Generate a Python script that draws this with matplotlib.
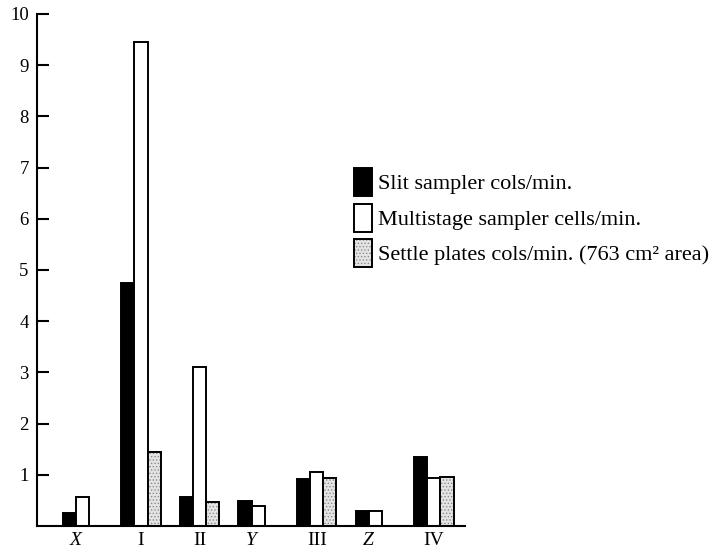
import numpy as np
import matplotlib
matplotlib.use("Agg")
import matplotlib.pyplot as plt
from matplotlib.patches import Patch

groups = ["X", "I", "II", "Y", "III", "Z", "IV"]
italic = [True, False, False, True, False, True, False]
slit = [0.26, 4.75, 0.57, 0.48, 0.92, 0.30, 1.35]
multistage = [0.57, 9.45, 3.10, 0.40, 1.05, 0.30, 0.93]
settle = [np.nan, 1.45, 0.47, np.nan, 0.93, np.nan, 0.95]
labels = ["Slit sampler cols/min.",
          "Multistage sampler cells/min.",
          "Settle plates cols/min. (763 cm\u00b2 area)"]

plt.rcParams['font.family'] = ['Liberation Serif', 'DejaVu Serif']
plt.rcParams['hatch.linewidth'] = 0.6

fig = plt.figure(figsize=(7.18, 5.5), dpi=100)
ax = fig.add_axes([37/718, 1-526/550, (465-37)/718, (526-14)/550])

w = 0.225
x = np.arange(len(groups))
lw = 1.4
stip_face = '#e4e4e4'
stip_dot = '#8a8a8a'
ax.bar(x, slit, w, align='edge', color='black', edgecolor='black', linewidth=lw)
ax.bar(x + w, multistage, w, align='edge', color='white', edgecolor='black', linewidth=lw)
for i, v in enumerate(settle):
    if not np.isnan(v):
        ax.bar(x[i] + 2*w, v, w, align='edge', color=stip_face, edgecolor=stip_dot,
               linewidth=0, hatch='.....')
        ax.bar(x[i] + 2*w, v, w, align='edge', fill=False, edgecolor='black', linewidth=lw)

ax.set_xlim(-0.44, 6.87)
ax.set_ylim(0, 10)
ax.set_yticks(range(1, 11))
ax.tick_params(axis='y', direction='in', length=8.5, width=1.5, labelsize=13.5, pad=6)

centers = [x[i] + (1.5*w if not np.isnan(settle[i]) else w) for i in range(len(groups))]
ax.set_xticks(centers)
ax.set_xticklabels(groups)
for t, it in zip(ax.get_xticklabels(), italic):
    t.set_fontstyle('italic' if it else 'normal')
ax.tick_params(axis='x', length=0, labelsize=14, pad=4)

for s in ['top', 'right']:
    ax.spines[s].set_visible(False)
for s in ['left', 'bottom']:
    ax.spines[s].set_linewidth(1.5)

handles = [Patch(facecolor='black', edgecolor='black', linewidth=lw),
           Patch(facecolor='white', edgecolor='black', linewidth=lw),
           (Patch(facecolor=stip_face, edgecolor=stip_dot, linewidth=0, hatch='.....'),
            Patch(fill=False, edgecolor='black', linewidth=lw))]
fig.legend(handles, labels, loc='upper left', bbox_to_anchor=(354/718, 1-168/550),
           frameon=False, fontsize=16, handlelength=0.8, handleheight=1.56,
           handletextpad=0.3, labelspacing=0.34, borderpad=0, borderaxespad=0)

fig.savefig("out.png", dpi=100)
